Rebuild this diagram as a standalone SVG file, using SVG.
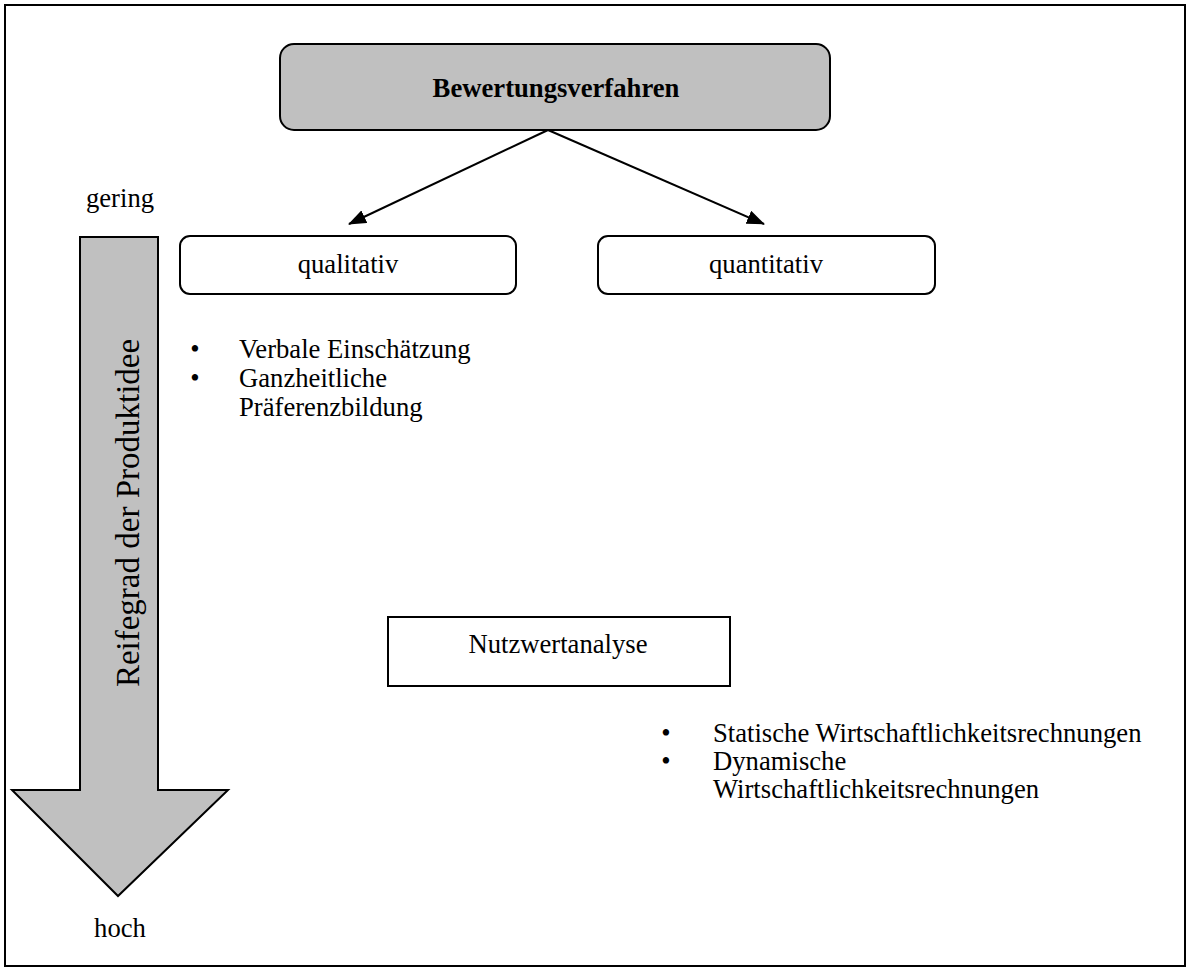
<svg xmlns="http://www.w3.org/2000/svg" width="1190" height="971" viewBox="0 0 1190 971">
<style>
text{font-family:"Liberation Serif","Times New Roman",serif;fill:#000;font-size:26.67px}
.box{fill:#fff;stroke:#000;stroke-width:2}
.c{stroke:#000;stroke-width:2;fill:none}
</style>
<defs>
<marker id="ah" viewBox="0 0 18 14" refX="17" refY="7" markerWidth="18" markerHeight="14" markerUnits="userSpaceOnUse" orient="auto">
<path d="M0,0 L18,7 L0,14 z" fill="#000"/>
</marker>
</defs>
<rect x="0" y="0" width="1190" height="971" fill="#fff"/>
<rect x="5" y="5" width="1180" height="961" fill="none" stroke="#000" stroke-width="2"/>
<g id="arrow-reife">
<path d="M80,237 L158,237 L158,790 L228,790 L118,896 L12,790 L80,790 Z" fill="#c0c0c0" stroke="#000" stroke-width="2"/>
<text transform="translate(139,513) rotate(-90)" text-anchor="middle" style="font-size:33px">Reifegrad der Produktidee</text>
</g>
<g id="label-gering"><text x="120" y="207" text-anchor="middle">gering</text></g>
<g id="label-hoch"><text x="120" y="937" text-anchor="middle">hoch</text></g>
<g id="node-bewertung">
<rect x="280" y="44" width="550" height="86" rx="14" fill="#c0c0c0" stroke="#000" stroke-width="2"/>
<text x="556" y="97" text-anchor="middle" font-weight="bold">Bewertungsverfahren</text>
</g>
<g id="node-qualitativ">
<rect class="box" x="180" y="236" width="336" height="58" rx="10"/>
<text x="348" y="273" text-anchor="middle">qualitativ</text>
</g>
<g id="node-quantitativ">
<rect class="box" x="598" y="236" width="337" height="58" rx="10"/>
<text x="766" y="273" text-anchor="middle">quantitativ</text>
</g>
<g id="list-qualitativ">
<text x="195" y="358" text-anchor="middle">•</text><text x="239" y="358">Verbale Einschätzung</text>
<text x="195" y="387" text-anchor="middle">•</text><text x="239" y="387">Ganzheitliche</text>
<text x="239" y="416">Präferenzbildung</text>
</g>
<g id="node-nutzwert">
<rect class="box" x="388" y="617" width="342" height="69"/>
<text x="558" y="653" text-anchor="middle">Nutzwertanalyse</text>
</g>
<g id="list-quantitativ">
<text x="666" y="742" text-anchor="middle">•</text><text x="713" y="742">Statische Wirtschaftlichkeitsrechnungen</text>
<text x="666" y="770" text-anchor="middle">•</text><text x="713" y="770">Dynamische</text>
<text x="713" y="798">Wirtschaftlichkeitsrechnungen</text>
</g>
<g id="connectors">
<line class="c" x1="548" y1="130" x2="349" y2="224" marker-end="url(#ah)"/>
<line class="c" x1="548" y1="130" x2="764" y2="224" marker-end="url(#ah)"/>
</g>
</svg>
